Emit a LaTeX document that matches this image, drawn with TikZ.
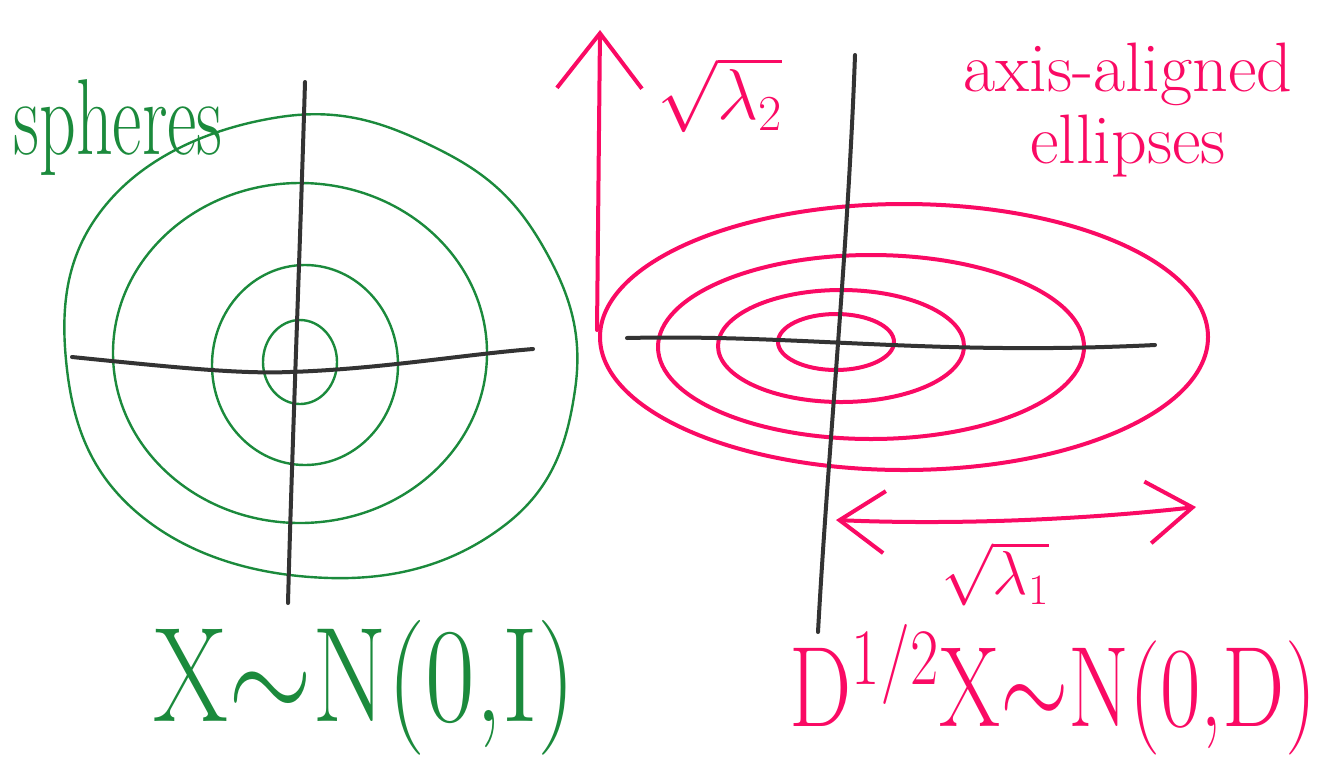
\RequirePackage{fix-cm}
\documentclass[tikz,border=0pt]{standalone}
\usepackage{amsmath,amssymb}
\usepackage{xcolor}
\usepackage{tikz}
\usetikzlibrary{arrows.meta}
\definecolor{sph}{HTML}{1B8A3C}
\definecolor{ell}{HTML}{FA0A64}
\definecolor{axcol}{HTML}{333333}

\begin{document}
\begin{tikzpicture}[x=1pt, y=-1pt,
  ax/.style={draw=axcol, line width=4pt, line cap=round},
  cir/.style={draw=sph, line width=2.4pt},
  elp/.style={draw=ell, line width=4pt},
  lbl/.style={inner sep=0pt},
  arr/.style={draw=ell, line width=4pt, line cap=round,
    -{Straight Barb[length=55pt, width=85pt, line width=4pt]}},
  darr/.style={arr, {Straight Barb[length=45pt, width=62pt, line width=4pt]}-{Straight Barb[length=45pt, width=62pt, line width=4pt]}}]
  \useasboundingbox (0,0) rectangle (1332,764);

  % left picture: spheres
  \coordinate (lh1) at (72,357);
  \coordinate (lh2) at (533,349);
  \coordinate (lv1) at (305,82);
  \coordinate (lv2) at (288,603);
  \draw[cir] plot[smooth cycle, tension=0.7] coordinates {(280,117) (440,150) (545,250) (575,390) (505,525) (330,578) (140,515) (66,360) (110,200)};
  \draw[cir] (300,353) ellipse [x radius=187, y radius=170];
  \draw[cir] (305,365) ellipse [x radius=93, y radius=100];
  \draw[cir] (300,362) ellipse [x radius=37, y radius=42];
  \draw[ax] (lh1) .. controls (180,368) and (240,374) .. (290,372) .. controls (380,369) and (460,355) .. (lh2);
  \draw[ax] (lv1) .. controls (300,250) and (292,450) .. (lv2);

  % right picture: ellipses
  \coordinate (rh1) at (627,338);
  \coordinate (rh2) at (1155,345);
  \coordinate (rv1) at (855,55);
  \coordinate (rv2) at (818,632);
  \draw[elp] (904,337) ellipse [x radius=304, y radius=133];
  \draw[elp] (871,347) ellipse [x radius=213, y radius=92];
  \draw[elp] (841,346) ellipse [x radius=123, y radius=56];
  \draw[elp] (836,342) ellipse [x radius=58, y radius=28];
  \draw[ax] (rh1) .. controls (800,334) and (930,356) .. (rh2);
  \draw[ax] (rv1) .. controls (848,250) and (828,450) .. (rv2);

  % scale arrows
  \coordinate (a2s) at (597,330);
  \coordinate (a2e) at (600,30);
  \coordinate (a1s) at (836,520);
  \coordinate (a1e) at (1196,507);
  \draw[arr] (a2s) -- (a2e);
  \draw[darr] (a1s) .. controls (950,525) and (1080,520) .. (a1e);

  % labels
  \node[lbl, text=sph, yscale=1.5] (sphtxt) at (118,128) {\fontsize{72}{72}\selectfont spheres};
  \node[lbl, text=ell, align=center, font=\fontsize{70}{72}\selectfont] (elltxt) at (1128,110) {axis-aligned\\ellipses};
  \node[lbl, text=ell] (l2) at (720,95) {\fontsize{72}{72}\selectfont$\sqrt{\lambda_2}$};
  \node[lbl, text=ell] (l1) at (995,574) {\fontsize{62}{62}\selectfont$\sqrt{\lambda_1}$};
  \node[lbl, text=sph, yscale=1.25] (lawl) at (365,688) {\fontsize{108}{108}\selectfont X$\sim$N(0,I)};
  \node[lbl, text=ell, yscale=1.3] (lawr) at (1053,690) {\fontsize{88}{88}\selectfont D$^{1/2}$X$\sim$N(0,D)};
\end{tikzpicture}
\end{document}
